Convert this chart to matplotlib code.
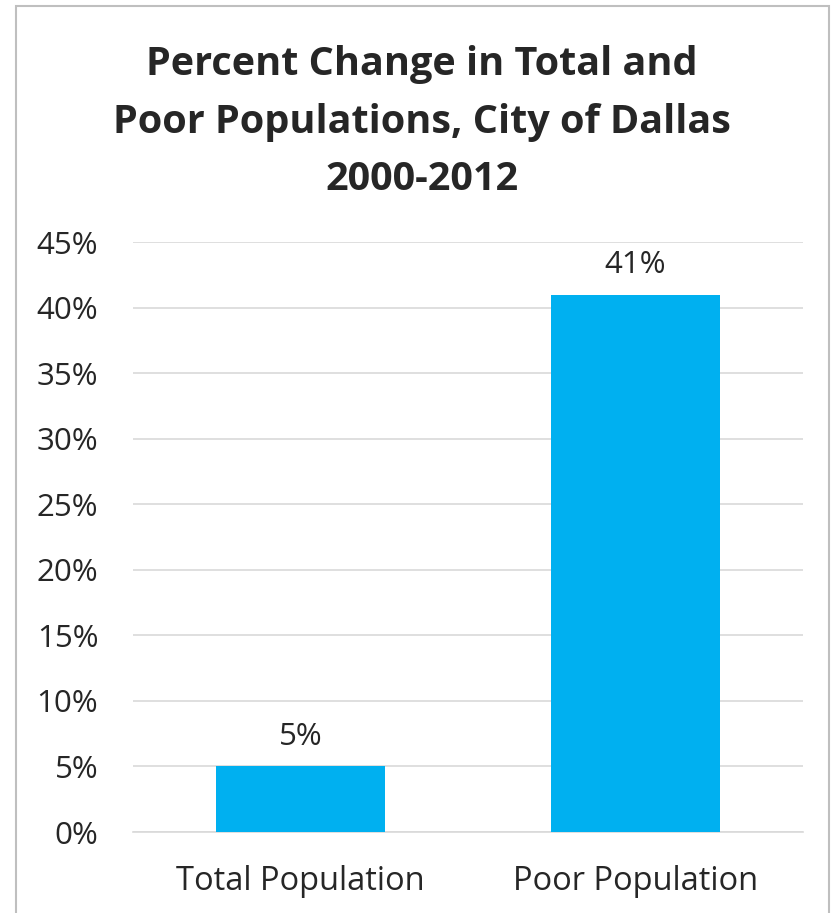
import matplotlib
matplotlib.use("Agg")
import matplotlib.pyplot as plt
from matplotlib.patches import Rectangle

categories = ["Total Population", "Poor Population"]
values = [5, 41]
value_labels = ["5%", "41%"]
yticks = [0, 5, 10, 15, 20, 25, 30, 35, 40, 45]

plt.rcParams['font.family'] = ['Open Sans', 'DejaVu Sans']
text_color = "#262626"
bar_color = "#00B0F0"
grid_color = "#D9D9D9"

fig = plt.figure(figsize=(8.31, 9.13), dpi=100)
ax = fig.add_axes([0.160, 0.0887, 0.806, 0.646])

x = range(len(categories))
ax.bar(x, values, width=0.505, color=bar_color, zorder=3)
for i, v in enumerate(values):
    ax.text(i, v + 1.1, value_labels[i], ha="center", va="bottom",
            fontsize=22.5, color=text_color)

ax.set_xlim(-0.5, 1.5)
ax.set_ylim(0, 45)
ax.set_yticks(yticks)
ax.set_yticklabels(["%d%%" % t for t in yticks])
ax.set_xticks(list(x))
ax.set_xticklabels(categories)
ax.tick_params(axis="both", length=0, labelcolor=text_color)
ax.tick_params(axis="y", pad=25, labelsize=22.5)
ax.tick_params(axis="x", pad=24, labelsize=23.5)
ax.grid(axis="y", color=grid_color, linewidth=1.2, zorder=0)
for s in ["top", "right", "left"]:
    ax.spines[s].set_visible(False)
ax.spines["bottom"].set_color(grid_color)
ax.spines["bottom"].set_linewidth(1.2)

fig.text(0.508, 0.866, "Percent Change in Total and\nPoor Populations, City of Dallas\n2000-2012",
         ha="center", va="center", fontsize=28.5, fontweight="bold",
         color=text_color, linespacing=1.62)

fig.patches.append(Rectangle((16 / 831, -0.05), (829 - 16) / 831, 1.05 - 6 / 913,
                             transform=fig.transFigure, fill=False,
                             edgecolor="#BFBFBF", linewidth=1.5))

fig.savefig("out.png", dpi=100)
